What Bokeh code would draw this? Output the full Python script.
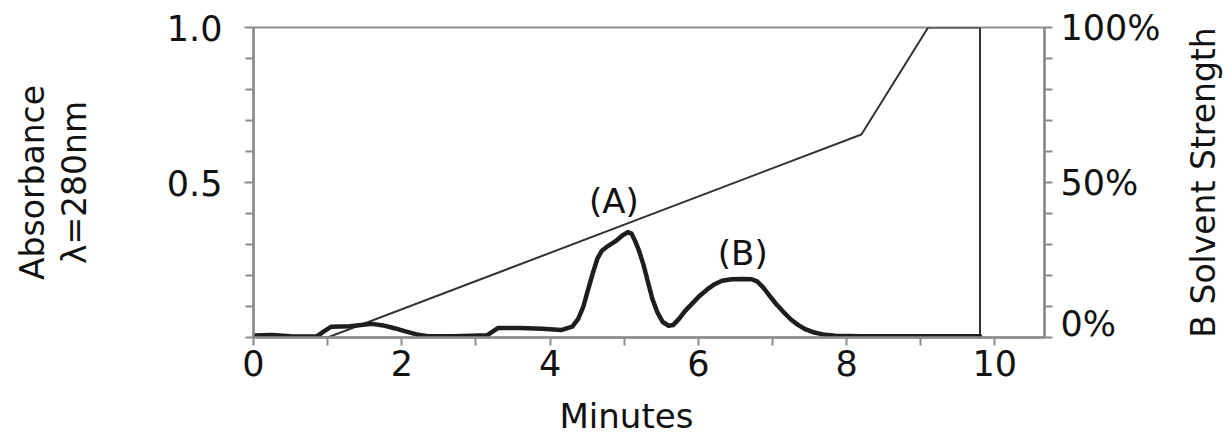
import math
from bokeh.plotting import figure
from bokeh.layouts import row
from bokeh.models import Range1d, LinearAxis, FixedTicker, PrintfTickFormatter, Label, Title, CustomJSTickFormatter
from bokeh.embed import file_html
from bokeh.resources import INLINE

# Absorbance trace (minutes, AU at 280 nm)
time_min = [0.0, 0.25, 0.5, 0.85, 0.95, 1.05, 1.3, 1.45, 1.6, 1.75, 1.9, 2.05, 2.2, 2.35, 2.7,
            3.15, 3.3, 3.6, 3.9, 4.15, 4.3, 4.38, 4.45, 4.52, 4.58, 4.64, 4.7, 4.78, 4.88, 4.98,
            5.05, 5.1, 5.15, 5.2, 5.26, 5.32, 5.38, 5.45, 5.52, 5.6, 5.66, 5.74, 5.82, 5.92,
            6.02, 6.12, 6.22, 6.32, 6.45, 6.6, 6.72, 6.8, 6.88, 6.96, 7.05, 7.15, 7.25, 7.35,
            7.45, 7.55, 7.68, 7.85, 8.2, 9.0, 9.8]
absorbance = [0.006, 0.008, 0.004, 0.003, 0.02, 0.035, 0.036, 0.04, 0.044, 0.039, 0.03, 0.02,
              0.01, 0.004, 0.004, 0.007, 0.031, 0.031, 0.028, 0.024, 0.035, 0.06, 0.10, 0.16,
              0.21, 0.255, 0.28, 0.295, 0.31, 0.33, 0.34, 0.335, 0.31, 0.28, 0.235, 0.18, 0.125,
              0.08, 0.05, 0.038, 0.04, 0.06, 0.085, 0.11, 0.135, 0.155, 0.172, 0.183, 0.188,
              0.189, 0.188, 0.18, 0.16, 0.135, 0.108, 0.082, 0.058, 0.04, 0.026, 0.017, 0.01,
              0.006, 0.004, 0.004, 0.004]

# Solvent B gradient (minutes, %)
grad_time = [0.0, 1.0, 8.2, 9.1, 9.8, 9.8]
grad_b = [0, 0, 65.5, 100, 100, 0]

# Peak labels
peak_labels = ["(A)", "(B)"]
peak_x = [4.86, 6.6]
peak_y = [0.44, 0.274]

x_ticks = [0, 2, 4, 6, 8, 10]
x_minor = [1, 3, 5, 7, 9]
abs_ticks = [0.5, 1.0]
abs_minor = [0.0, 0.1, 0.2, 0.3, 0.4, 0.6, 0.7, 0.8, 0.9]
b_ticks = [4.5, 50, 100]          # 0% label sits slightly above the baseline
b_minor = [0, 10, 20, 30, 40, 50, 60, 70, 80, 90, 100]

FONT = "DejaVu Sans"
AXIS = "#8c8c8c"
INK = "#111111"

p = figure(frame_width=791, frame_height=310, x_range=Range1d(0, 10.67), y_range=Range1d(0, 1),
           output_backend="svg", toolbar_location=None,
           min_border_left=253, min_border_right=136, min_border_top=27, min_border_bottom=97)
p.extra_y_ranges = {"b": Range1d(0, 100)}
p.grid.visible = False
p.outline_line_color = AXIS
p.outline_line_width = 2
p.background_fill_color = "white"
p.border_fill_color = "white"

# x axis
xa = p.xaxis[0]
xa.ticker = FixedTicker(ticks=x_ticks, minor_ticks=x_minor)
xa.axis_line_color = AXIS
xa.axis_line_width = 2.5
xa.major_tick_line_color = AXIS
xa.minor_tick_line_color = AXIS
xa.major_tick_line_width = 2
xa.minor_tick_line_width = 2
xa.major_tick_in = 0
xa.minor_tick_in = 0
xa.major_tick_out = 8
xa.minor_tick_out = 8
xa.major_label_standoff = 4
xa.major_label_text_font = FONT
xa.major_label_text_font_size = "35px"
xa.major_label_text_color = INK

# left axis
ya = p.yaxis[0]
ya.ticker = FixedTicker(ticks=abs_ticks, minor_ticks=abs_minor)
ya.formatter = PrintfTickFormatter(format="%.1f")
ya.axis_line_color = AXIS
ya.axis_line_width = 2.5
ya.major_tick_line_color = AXIS
ya.minor_tick_line_color = AXIS
ya.major_tick_line_width = 2
ya.minor_tick_line_width = 2
ya.major_tick_in = 0
ya.minor_tick_in = 0
ya.major_tick_out = 9
ya.minor_tick_out = 8
ya.major_label_standoff = 22
ya.major_label_text_font = FONT
ya.major_label_text_font_size = "35px"
ya.major_label_text_color = INK
ya.axis_label = "Absorbance\nλ=280nm"
ya.axis_label_text_font = FONT
ya.axis_label_text_font_size = "33px"
ya.axis_label_text_font_style = "normal"
ya.axis_label_text_color = INK
ya.axis_label_text_line_height = 1.08
ya.axis_label_standoff = 70

# right axis (major ticks hidden; the visible marks are the minor ticks)
ra = LinearAxis(y_range_name="b", ticker=FixedTicker(ticks=b_ticks, minor_ticks=b_minor),
                formatter=CustomJSTickFormatter(code="return (tick < 10 ? 0 : tick.toFixed(0)) + '%'"))
ra.axis_line_color = AXIS
ra.axis_line_width = 2.5
ra.major_tick_line_color = None
ra.minor_tick_line_color = AXIS
ra.minor_tick_line_width = 2
ra.major_tick_in = 0
ra.minor_tick_in = 0
ra.major_tick_out = 8
ra.minor_tick_out = 8
ra.major_label_standoff = 8
ra.major_label_text_font = FONT
ra.major_label_text_font_size = "35px"
ra.major_label_text_color = INK
p.add_layout(ra, "right")

# x axis title, shifted left to sit under 5 minutes as in the source
p.add_layout(Title(text="Minutes", align="left", offset=306, standoff=31,
                   text_font=FONT, text_font_size="34px", text_font_style="normal",
                   text_color=INK), "below")

# curves
p.line(grad_time, grad_b, y_range_name="b", line_color="#333333", line_width=2)
p.line(time_min, absorbance, line_color="#1e1e1e", line_width=4.5, line_join="round", line_cap="round")

for t, x, y in zip(peak_labels, peak_x, peak_y):
    p.add_layout(Label(x=x, y=y, text=t, text_align="center", text_baseline="middle",
                       text_font=FONT, text_font_size="34px", text_color=INK))

# right-hand axis title (reads bottom-to-top), drawn as the label of a bare axis
p2 = figure(frame_width=4, frame_height=310, x_range=Range1d(0, 1), y_range=Range1d(0, 1),
            output_backend="svg", toolbar_location=None, title=None,
            x_axis_location=None, y_axis_location=None,
            min_border_left=48, min_border_right=0, min_border_top=27, min_border_bottom=97)
p2.grid.visible = False
p2.outline_line_color = None
p2.border_fill_color = "white"
p2.background_fill_color = "white"
la = LinearAxis(ticker=FixedTicker(ticks=[], minor_ticks=[]))
la.axis_line_color = None
la.major_tick_line_color = None
la.minor_tick_line_color = None
la.major_tick_out = 0
la.minor_tick_out = 0
la.major_label_standoff = 0
la.axis_label = "B Solvent Strength"
la.axis_label_text_font = FONT
la.axis_label_text_font_size = "33px"
la.axis_label_text_font_style = "normal"
la.axis_label_text_color = INK
la.axis_label_standoff = 9
p2.add_layout(la, "left")

layout = row(p, p2, spacing=0)
open("out.html", "w").write(file_html(layout, INLINE))
